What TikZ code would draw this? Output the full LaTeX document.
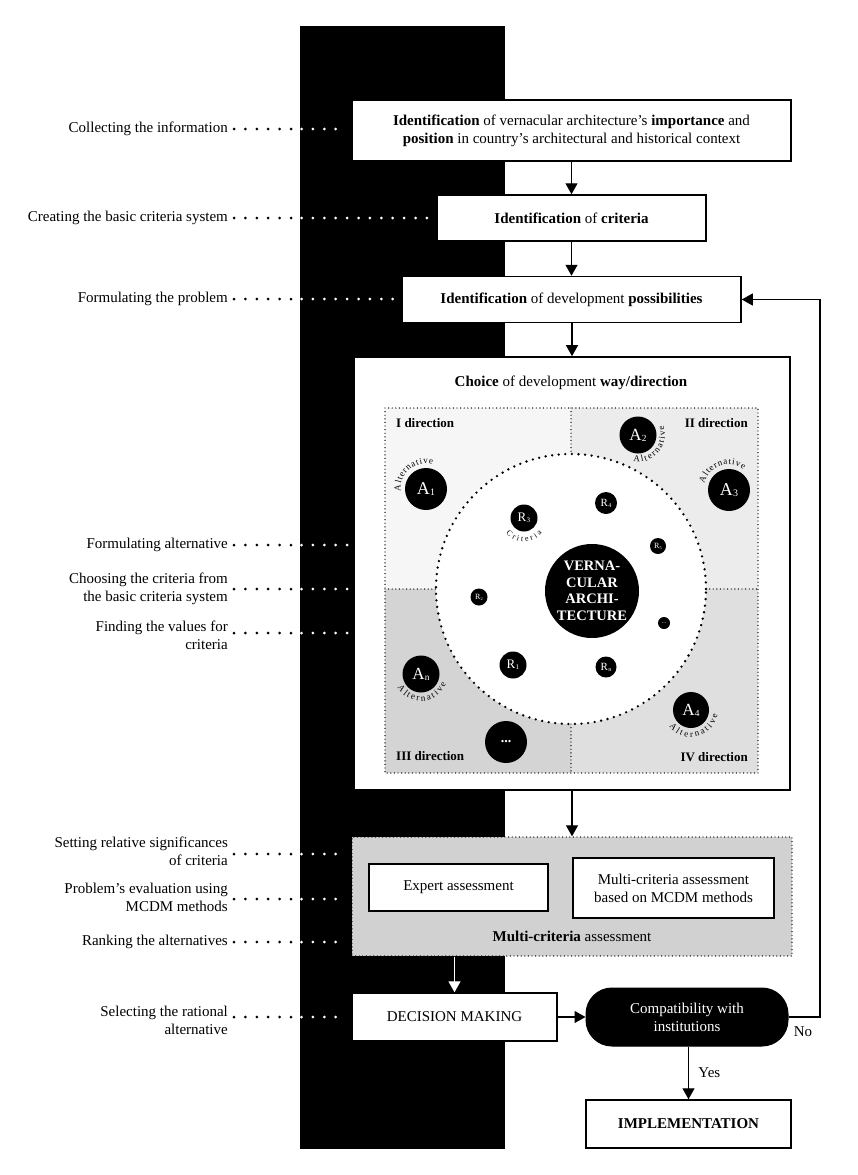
\documentclass[tikz,border=0pt]{standalone}
\usepackage{fontspec}
\setmainfont{Liberation Serif}
\usetikzlibrary{arrows.meta,calc,decorations.text}
\definecolor{qtl}{gray}{0.965}
\definecolor{qtr}{gray}{0.925}
\definecolor{qbl}{gray}{0.83}
\definecolor{qbr}{gray}{0.875}
\definecolor{boxgray}{gray}{0.82}
\newcommand\myarctext[6]{\path[decorate,decoration={text along path,text={|\fontsize{#6}{#6}\selectfont|#5},text align=fit to path}] ($(#1)+(#3:#2)$) arc[start angle=#3,end angle=#4,radius=#2];}
\newcommand\sbs[1]{\kern0.3pt\raisebox{-1pt}{\scalebox{0.55}{#1}}}
\begin{document}
\begin{tikzpicture}[x=1pt,y=1pt,
  every node/.style={font=\fontsize{15}{18}\selectfont},
  lab/.style={anchor=east, align=right, inner sep=0pt},
  box/.style={draw, fill=white, line width=1.5pt, align=center, inner sep=0pt},
  arr/.style={line width=1.3pt, -{Triangle[width=12pt,length=11pt]}},
  dotl/.style={line width=3pt, line cap=round, dash pattern=on 0pt off 11.4pt, shorten <=6pt},
  dotw/.style={white, line width=3pt, line cap=round, dash pattern=on 0pt off 11.4pt, shorten <=1.5pt, shorten >=5pt},
  sqdot/.style={line width=1.4pt, line cap=round, dash pattern=on 0pt off 3.6pt},
  circdot/.style={line width=2.6pt, line cap=round, dash pattern=on 0pt off 6.6pt},
  cir/.style={circle, fill=black, text=white, inner sep=0pt, minimum size=#1},
  dirlab/.style={font=\bfseries\fontsize{13}{15}\selectfont, inner sep=0pt},
  ]
\fill[white] (0,0) rectangle (857,-1175);
\useasboundingbox (0,0) rectangle (857,-1175);

% black bar
\node[fill=black, inner sep=0pt, minimum width=205pt, minimum height=1123pt, anchor=north west] (bar) at (300,-26) {};

% left labels
\node[lab] (l1) at (228,-129) {Collecting the information};
\node[lab] (l2) at (228,-218) {Creating the basic criteria system};
\node[lab] (l3) at (228,-299) {Formulating the problem};
\node[lab] (l4) at (228,-545) {Formulating alternative};
\node[lab] (l5) at (228,-589) {Choosing the criteria from\\the basic criteria system};
\node[lab] (l6) at (228,-635) {Finding the values for\\criteria};
\node[lab] (l7) at (228,-851) {Setting relative significances\\of criteria};
\node[lab] (l8) at (228,-897) {Problem’s evaluation using\\MCDM methods};
\node[lab] (l9) at (228,-942) {Ranking the alternatives};
\node[lab] (l10) at (228,-1020) {Selecting the rational\\alternative};

% main boxes
\node[box, minimum width=439pt, minimum height=61pt] (b1) at (571.5,-130.5)
  {\textbf{Identification} of vernacular architecture’s \textbf{importance} and\\\textbf{position} in country’s architectural and historical context};
\node[box, minimum width=269pt, minimum height=46pt] (b2) at (571.5,-218) {\textbf{Identification} of \textbf{criteria}};
\node[box, minimum width=339pt, minimum height=46pt] (b3) at (571.5,-299.5) {\textbf{Identification} of development \textbf{possibilities}};
\node[box, line width=1.6pt, minimum width=436pt, minimum height=433pt] (big) at (572,-573.5) {};
\node (title) at (571,-383) {\textbf{Choice} of development \textbf{way/direction}};

% quadrants
\fill[qtl] (385,-408) rectangle (571,-589);
\fill[qtr] (571,-408) rectangle (758,-589);
\fill[qbl] (385,-589) rectangle (571,-773);
\fill[qbr] (571,-589) rectangle (758,-773);
\fill[white] (571,-589) circle (135);
\draw[sqdot] (385,-408) rectangle (758,-773);
\draw[sqdot] (571,-408) -- (571,-454);
\draw[sqdot] (571,-724) -- (571,-773);
\draw[sqdot] (385,-589) -- (436,-589);
\draw[sqdot] (706,-589) -- (758,-589);
\draw[circdot] (571,-589) circle (135);

\node[dirlab, anchor=west] (d1) at (396,-423) {I direction};
\node[dirlab, anchor=east] (d2) at (748,-423) {II direction};
\node[dirlab, anchor=west] (d3) at (396,-756) {III direction};
\node[dirlab, anchor=east] (d4) at (748,-757) {IV direction};

% circles
\node[cir=94pt, font=\bfseries\fontsize{14.5}{16.5}\selectfont, align=center] (va) at (592,-591) {VERNA-\\CULAR\\ARCHI-\\TECTURE};
\node[cir=42pt, font=\fontsize{18}{18}\selectfont] (A1) at (426,-489) {A\sbs{1}};
\node[cir=37pt, font=\fontsize{17}{17}\selectfont] (A2) at (638,-435) {A\sbs{2}};
\node[cir=42pt, font=\fontsize{18}{18}\selectfont] (A3) at (729,-490) {A\sbs{3}};
\node[cir=37pt, font=\fontsize{17}{17}\selectfont] (An) at (421,-674) {A\sbs{n}};
\node[cir=36pt, font=\fontsize{17}{17}\selectfont] (A4) at (691,-710) {A\sbs{4}};
\node[cir=27pt, font=\fontsize{13}{13}\selectfont] (R3) at (524,-518) {R\sbs{3}};
\node[cir=22pt, font=\fontsize{11}{11}\selectfont] (R4) at (606,-503) {R\sbs{4}};
\node[cir=16pt, font=\fontsize{8}{8}\selectfont] (R5) at (658,-546) {R\sbs{5}};
\node[cir=17pt, font=\fontsize{8}{8}\selectfont] (R2) at (479,-597) {R\sbs{2}};
\node[cir=12pt, font=\fontsize{6}{6}\selectfont] (Rd) at (664,-623) {...};
\node[cir=27pt, font=\fontsize{13}{13}\selectfont] (R1) at (513,-665) {R\sbs{1}};
\node[cir=21pt, font=\fontsize{11}{11}\selectfont] (Rn) at (606,-667) {R\sbs{n}};
\node[cir=42pt, font=\bfseries\fontsize{14}{14}\selectfont] (Ad) at (506,-742) {...};

% curved labels
\myarctext{A1}{25.5}{185}{75}{Alternative}{9}
\myarctext{A3}{25.5}{165}{55}{Alternative}{9}
\myarctext{A2}{27}{260}{380}{Alternative}{9}
\myarctext{An}{27}{210}{338}{Alternative}{9}
\myarctext{A4}{27}{216}{350}{Alternative}{9}
\myarctext{R3}{23.5}{220}{320}{Criteria}{8}

% multi-criteria block
\node[draw=black, fill=boxgray, sqdot, minimum width=440pt, minimum height=119pt, inner sep=0pt] (gray) at (572,-896.5) {};
\node[box, minimum width=179pt, minimum height=47pt] (exp) at (458.5,-887.5) {Expert assessment};
\node[box, minimum width=201pt, minimum height=60pt] (mcdm) at (673.5,-888) {Multi-criteria assessment\\based on MCDM methods};
\node (graylab) at (572,-936) {\textbf{Multi-criteria} assessment};

% bottom
\node[box, minimum width=205pt, minimum height=48pt] (dec) at (454.5,-1017) {DECISION MAKING};
\node[draw, fill=black, text=white, line width=1pt, rounded corners=26pt, minimum width=202pt, minimum height=58pt, inner sep=0pt, align=center] (comp) at (687,-1017) {Compatibility with\\institutions};
\node[box, minimum width=205pt, minimum height=48pt] (impl) at (688.5,-1124) {\textbf{IMPLEMENTATION}};
\coordinate (fb) at (820,-1017);

% arrows
\draw[arr] (b1) -- (b2);
\draw[arr] (b2) -- (b3);
\draw[arr] (b3.south -| big.north) -- (big.north);
\draw[arr] (big.south) -- (gray.north);
\draw[arr, white] (dec.north |- gray.south) -- (dec.north);
\draw[arr] (dec) -- (comp);
\draw[arr] (comp.south -| impl.north) -- (impl.north) node[midway, right=6pt] (yes) {Yes};
\draw[arr, line width=1.1pt] (comp.east) -- (fb) |- (b3.east);
\node (no) at (803,-1032) {No};

% dotted connectors: black on white ground, white on the bar
\draw[dotl] (l1.east) -- (l1.east -| bar.west);
\draw[dotw] (l1.east -| bar.west) -- (l1.east -| b1.west);
\draw[dotl] (l2.east) -- (l2.east -| bar.west);
\draw[dotw] (l2.east -| bar.west) -- (l2.east -| b2.west);
\draw[dotl] (l3.east) -- (l3.east -| bar.west);
\draw[dotw] (l3.east -| bar.west) -- (l3.east -| b3.west);
\draw[dotl] (l4.east) -- (l4.east -| bar.west);
\draw[dotw] (l4.east -| bar.west) -- (l4.east -| big.west);
\draw[dotl] (l5.east) -- (l5.east -| bar.west);
\draw[dotw] (l5.east -| bar.west) -- (l5.east -| big.west);
\draw[dotl] ([yshift=2pt]l6.east) -- ([yshift=2pt]l6.east -| bar.west);
\draw[dotw] ([yshift=2pt]l6.east -| bar.west) -- ([yshift=2pt]l6.east -| big.west);
\draw[dotl] ([yshift=-3pt]l7.east) -- ([yshift=-3pt]l7.east -| bar.west);
\draw[dotw] ([yshift=-3pt]l7.east -| bar.west) -- ([yshift=-3pt]l7.east -| gray.west);
\draw[dotl] ([yshift=-2pt]l8.east) -- ([yshift=-2pt]l8.east -| bar.west);
\draw[dotw] ([yshift=-2pt]l8.east -| bar.west) -- ([yshift=-2pt]l8.east -| gray.west);
\draw[dotl] (l9.east) -- (l9.east -| bar.west);
\draw[dotw] (l9.east -| bar.west) -- (l9.east -| gray.west);
\draw[dotl] ([yshift=3pt]l10.east) -- ([yshift=3pt]l10.east -| bar.west);
\draw[dotw] ([yshift=3pt]l10.east -| bar.west) -- ([yshift=3pt]l10.east -| dec.west);
\end{tikzpicture}
\end{document}
